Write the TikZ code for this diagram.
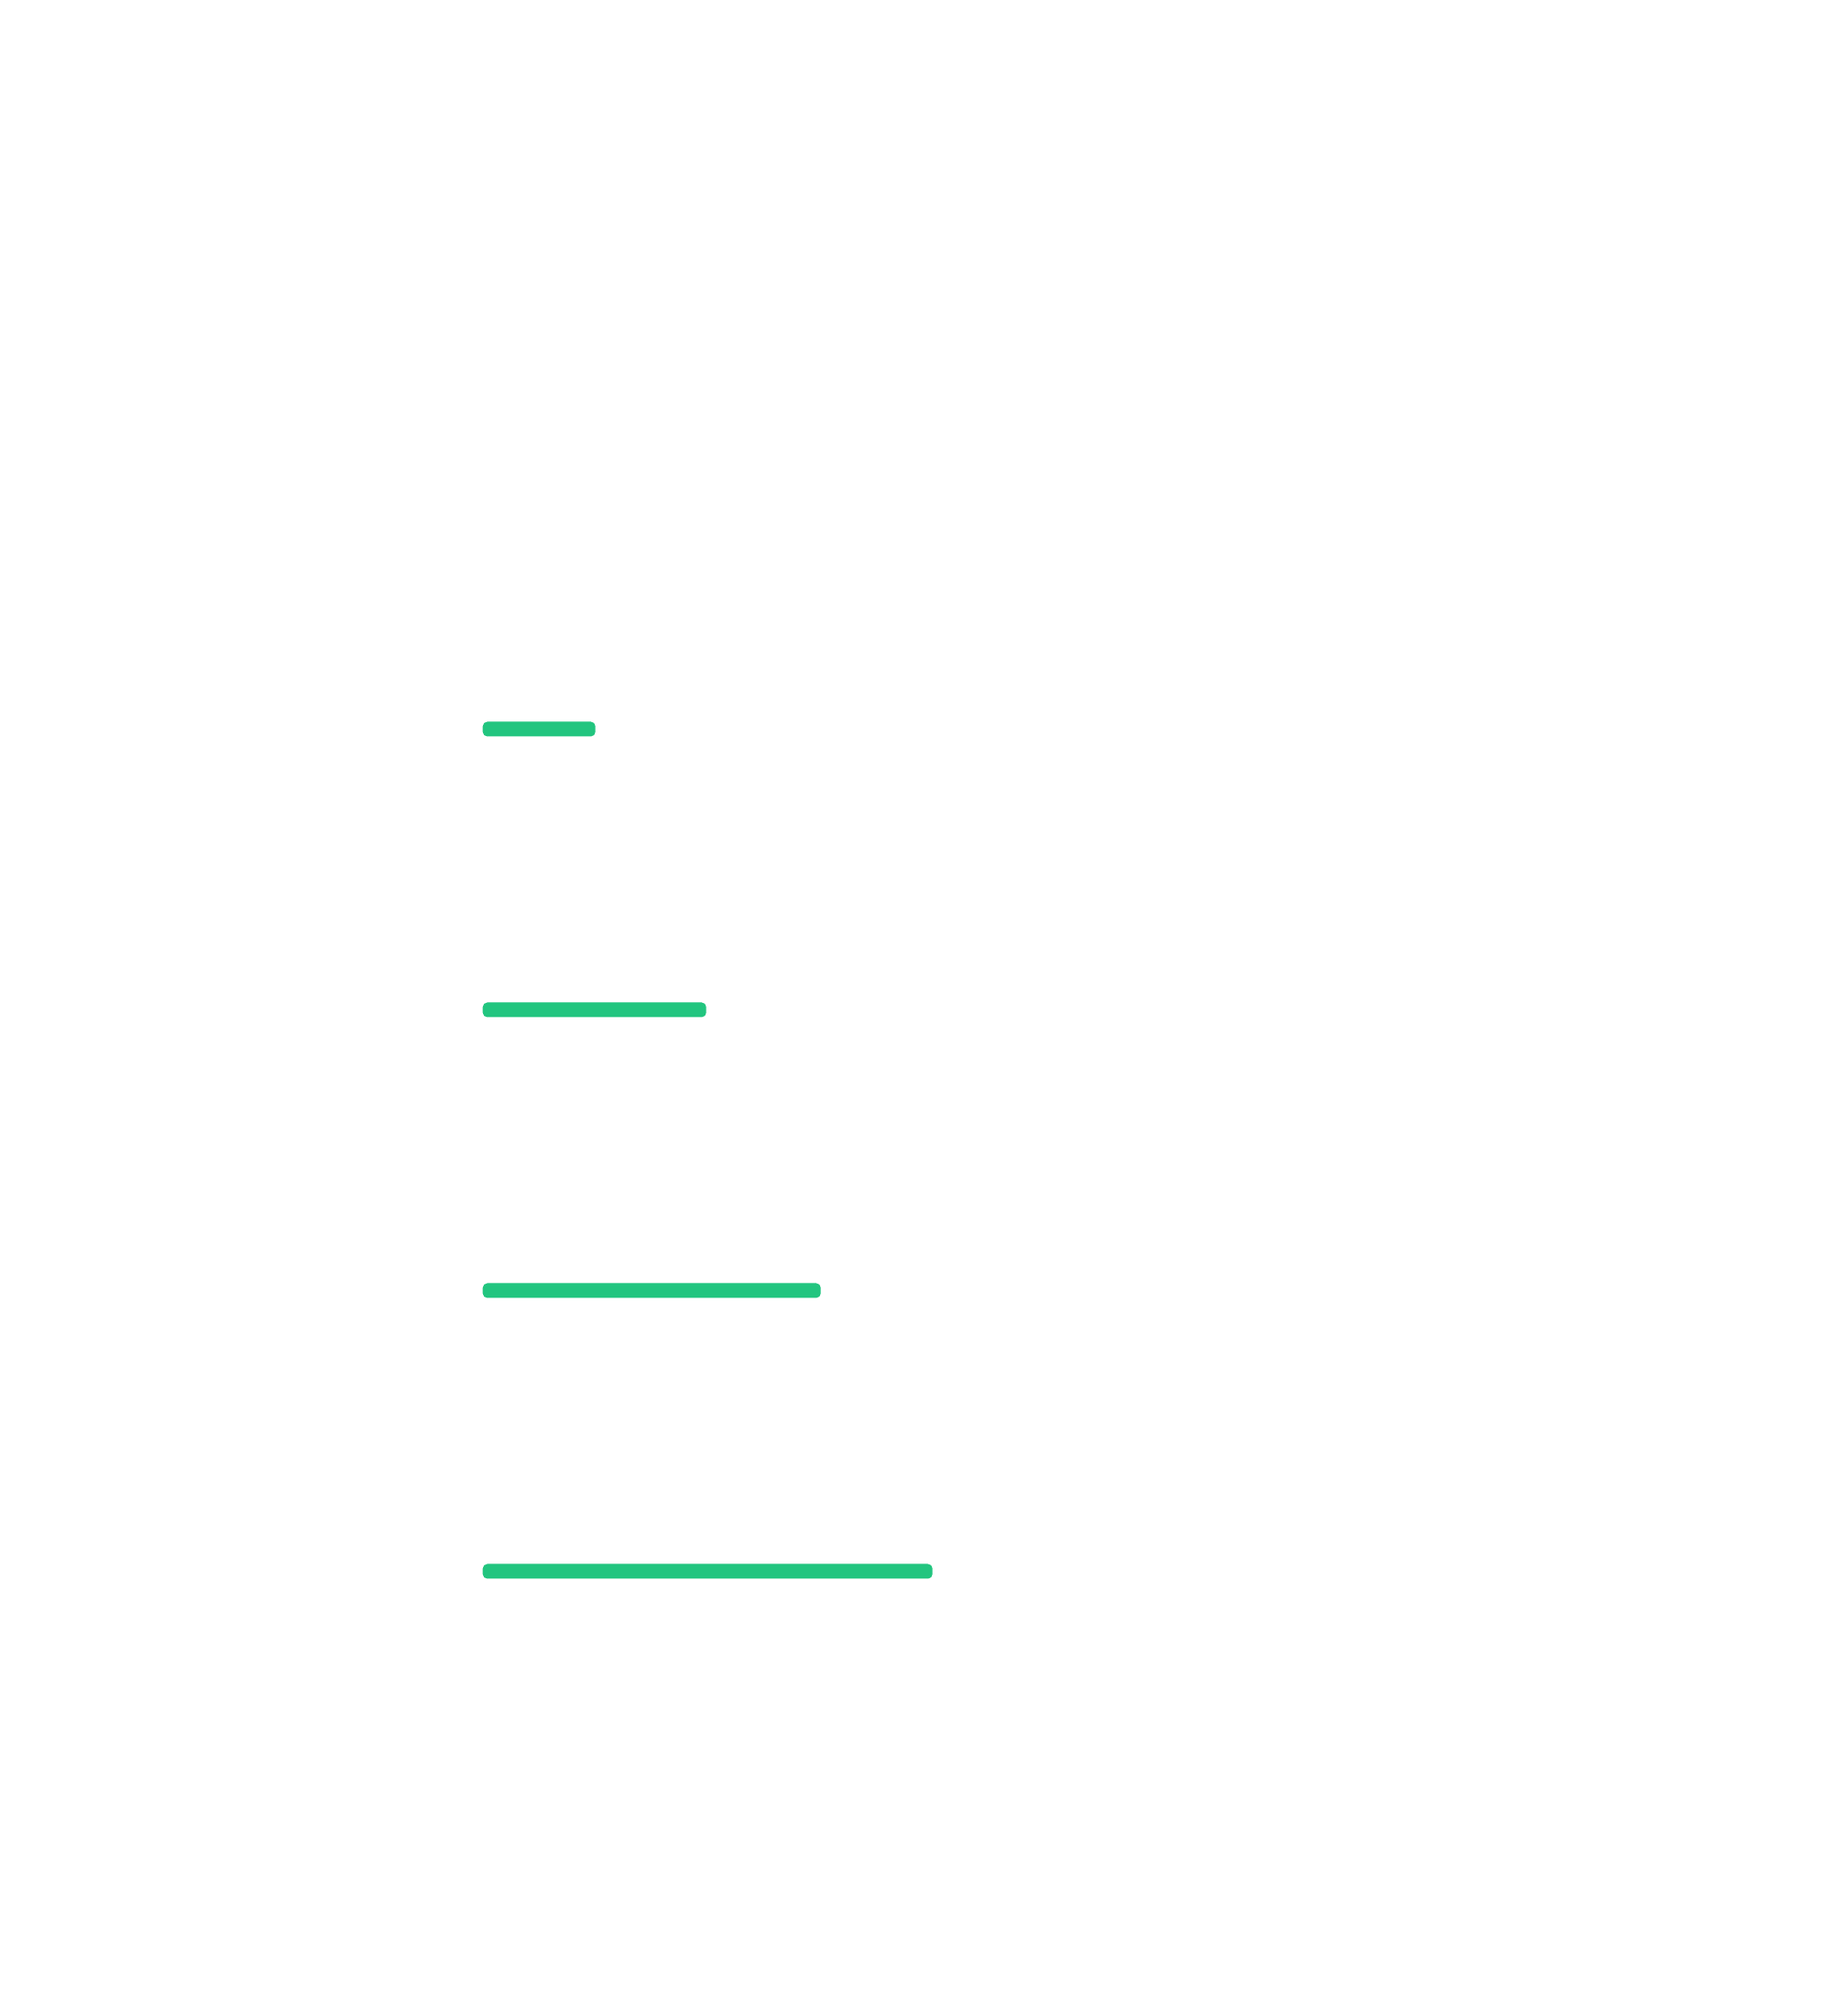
\documentclass[tikz,border=0pt]{standalone}
\usepackage{tikz}
\usetikzlibrary{positioning}
\definecolor{bargreen}{RGB}{34,197,127}
\begin{document}
\begin{tikzpicture}[every node/.style={fill=bargreen,rounded corners=0.05cm,inner sep=0pt,minimum height=0.16cm,anchor=west}]
  \useasboundingbox (0,0) rectangle (20,21.83);
  \node (1) at (5.22,13.935)[minimum width=1.22cm]{};
  \node (2) at (5.22,10.895)[minimum width=2.42cm]{};
  \node (3) at (5.22,7.855)[minimum width=3.66cm]{};
  \node (4) at (5.22,4.815)[minimum width=4.87cm]{};
\end{tikzpicture}
\end{document}
